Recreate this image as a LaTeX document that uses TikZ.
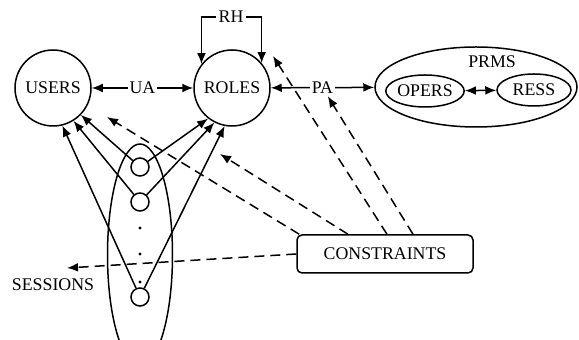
\documentclass[tikz,border=0pt]{standalone}
\usepackage{fontspec}
\setmainfont{Liberation Serif}
\usepackage{tikz}
\usetikzlibrary{arrows.meta}
\usetikzlibrary{shapes.geometric}
\usetikzlibrary{calc}
\usetikzlibrary{positioning}

\tikzset{
  entity/.style={circle, draw, minimum size=38pt, inner sep=0pt},
  sess/.style={circle, draw, minimum size=9pt, inner sep=0pt},
  oval/.style={ellipse, draw, inner sep=0pt},
  lbl/.style={fill=white, inner sep=1pt},
  restrict/.style={->, dash pattern=on 5pt off 3pt},
}

\begin{document}
\begin{tikzpicture}[x=0.5pt, y=-0.5pt, line width=0.75pt,
  >={Latex[length=5.5pt,width=4.4pt]}, font=\fontsize{8.9}{10}\selectfont]
 \useasboundingbox (0,0) rectangle (579,340);
 \clip (0,0) rectangle (579,340);

 % users, roles and permissions
 \node[entity] (users) at (53,88) {USERS};
 \node[entity] (roles) at (232,88) {ROLES};
 \node[oval, minimum width=101pt, minimum height=40pt] (prms) at (476,87) {};
 \node (prmstext) at (492,62) {PRMS};
 \node[oval, minimum width=39pt, minimum height=16pt] (opers) at (425,91) {OPERS};
 \node[oval, minimum width=37pt, minimum height=16pt] (ress) at (534,90) {RESS};
 \node[lbl] (rh) at (231,17) {RH};

 \draw[<->] (users) -- node[lbl] (ua) {UA} (roles);
 \draw[<->] (roles) -- node[lbl] (pa) {PA} (prms);
 \draw[<->] (opers) -- (ress);
 \draw[->] (rh.west) -| (roles.142);
 \draw[->] (rh.east) -| (roles.40);

 % sessions
 \node[oval, minimum width=32.5pt, minimum height=111pt] (group) at (140,255) {};
 \node[sess] (s1) at (140,167) {};
 \node[sess] (s2) at (140,202) {};
 \node[sess] (s3) at (140,297) {};
 \foreach \y in {228,254,282}
   \fill (140,\y) circle (0.8pt);
 \node (sessions) at (53,285) {SESSIONS};

 \foreach \s/\a/\b in {s1/-44/-128, s2/-58/-117, s3/-76/-101} {
   \draw[->] (\s) -- (users.\a);
   \draw[->] (\s) -- (roles.\b);
 }

 % constraints
 \node[draw, rounded corners=2.5pt, minimum width=88pt, minimum height=19pt] (cons) at (385,254) {CONSTRAINTS};
 \coordinate (toua) at (107,117);
 \coordinate (tosr) at (220,154);
 \coordinate (torh) at (273,56);
 \coordinate (tosess) at (67,268);

 \draw[restrict] ($(cons.north west)+(3,0)$) -- (toua);
 \draw[restrict] ($(cons.north)+(-37,0)$) -- (tosr);
 \draw[restrict] ($(cons.north)+(2,0)$) -- (torh);
 \draw[restrict] ($(cons.north)+(28,0)$) -- (pa);
 \draw[restrict] (cons.west) -- (tosess);
\end{tikzpicture}
\end{document}
